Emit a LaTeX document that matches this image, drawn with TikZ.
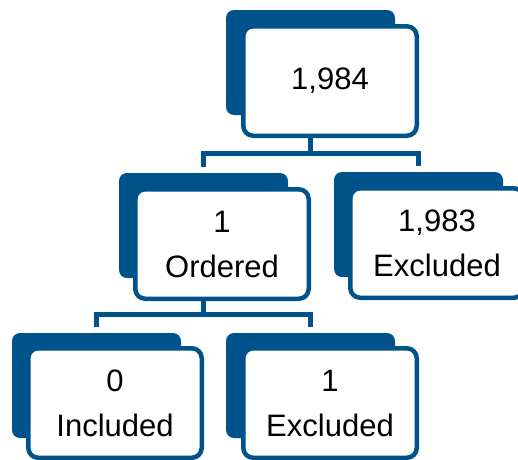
\documentclass[tikz,border=0pt]{standalone}
\usepackage{fontspec}
\setmainfont{Liberation Sans}
\definecolor{navy}{RGB}{0,83,138}
\begin{document}
\begin{tikzpicture}[x=1pt,y=-1pt,
  backbox/.style={fill=navy,draw=none,rounded corners=8pt,minimum width=169pt,minimum height=105pt,inner sep=0pt,outer sep=0pt},
  frontbox/.style={fill=white,draw=navy,line width=4.5pt,rounded corners=10pt,minimum width=173.5pt,minimum height=109.5pt,inner sep=0pt,outer sep=0pt,align=center,font=\fontsize{31}{45}\selectfont},
  conn/.style={draw=navy,line width=5pt}]
\useasboundingbox (0,0) rectangle (518,459);
\clip (0,0) rectangle (518,459);
% top
\node[backbox] (tb) at (310.5,62.5) {};
\node[frontbox] (tf) at (330,81) {1,984};
% middle
\node[backbox] (mlb) at (203.5,225.5) {};
\node[frontbox] (mlf) at (222,244) {1\\Ordered};
\node[backbox] (mrb) at (418.5,224.5) {};
\node[frontbox] (mrf) at (437,243) {1,983\\Excluded};
% bottom
\node[backbox] (blb) at (96.5,385.5) {};
\node[frontbox] (blf) at (115,403) {0\\Included};
\node[backbox] (brb) at (310.5,385.5) {};
\node[frontbox] (brf) at (330,403) {1\\Excluded};
% connectors
\coordinate (h1) at (310.5,153);
\coordinate (h2) at (203.5,314);
\draw[conn] ([yshift=6pt]mlb.north) |- (h1) -| ([yshift=6pt]mrb.north);
\draw[conn] (tf.south -| h1) -- (h1);
\draw[conn] ([yshift=6pt]blb.north) |- (h2) -| ([yshift=6pt]brb.north);
\draw[conn] (mlf.south -| h2) -- (h2);
\end{tikzpicture}
\end{document}
